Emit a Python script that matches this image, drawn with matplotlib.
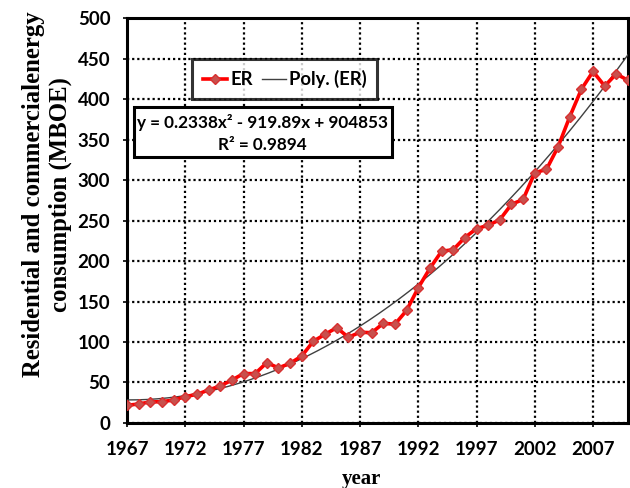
import numpy as np
import matplotlib.pyplot as plt
from matplotlib.lines import Line2D
from matplotlib.patches import Rectangle

# Residential and commercial energy consumption, MBOE
years = list(range(1967, 2011))
er = [21.8, 23.5, 26.0, 26.3, 28.4, 32.5, 35.4, 40.7, 45.7, 53.0,
      61.0, 61.0, 74.5, 68.0, 73.7, 82.7, 101.0, 109.5, 117.7, 105.8,
      112.0, 111.5, 123.0, 122.0, 139.0, 167.0, 191.0, 212.0, 214.0, 229.0,
      240.0, 244.0, 251.0, 270.0, 276.0, 309.0, 313.0, 341.0, 378.0, 412.0,
      434.0, 416.0, 431.0, 423.0]
eq_text = "y = 0.2338x\u00b2 - 919.89x + 904853"
r2_text = "R\u00b2 = 0.9894"
xticks = list(range(1967, 2011, 5))
yticks = list(range(0, 501, 50))

sans = ['Lato', 'DejaVu Sans']
serif = ['Liberation Serif', 'DejaVu Serif']

fig = plt.figure(figsize=(6.3, 4.88), dpi=100)
ax = fig.add_axes([0.2016, 0.1332, 0.7952, 0.8299])

# second order trend of the series
x = np.array(years, dtype=float)
coef = np.polyfit(x - 1967, er, 2)
xs = np.linspace(1967, 2010, 200)
ax.plot(xs, np.polyval(coef, xs - 1967), color='#404040', lw=1.0, zorder=3)

ax.plot(years, er, color='red', lw=2.6, marker='D', ms=5.5,
        mfc='#c8504d', mec='#d83030', mew=1.0, zorder=4)

ax.set_xlim(1967, 2010)
ax.set_ylim(0, 500)
ax.set_xticks(xticks)
ax.set_yticks(yticks)
ax.grid(True, color='black', ls=(0, (1, 1.3)), lw=1.6)
ax.set_axisbelow(True)
for s in ax.spines.values():
    s.set_linewidth(2.2)
ax.tick_params(length=3, width=1.2)
ax.tick_params(axis='x', pad=10)
ax.tick_params(axis='y', pad=9)
for lab in ax.get_xticklabels() + ax.get_yticklabels():
    lab.set_family(sans)
    lab.set_fontweight('bold')
    lab.set_fontsize(13.5)

ax.set_ylabel("Residential and commercialenergy\nconsumption (MBOE)",
              family=serif, fontweight='bold', fontsize=17.8, linespacing=1.2,
              va='center')
ax.yaxis.set_label_coords(-0.159, 0.565)
ax.text(0.469, -0.151, "year", transform=ax.transAxes, ha='center',
        va='baseline', family=serif, fontweight='bold', fontsize=15)

# legend
handles = [Line2D([], [], color='red', lw=2.6, marker='D', ms=5.5,
                  mfc='#c8504d', mec='#d83030'),
           Line2D([], [], color='#404040', lw=1.0)]
leg = ax.legend(handles, ['ER', 'Poly. (ER)'], loc='upper left',
                bbox_to_anchor=(0.13, 0.899), ncol=2, frameon=True,
                fancybox=False, borderaxespad=0, handlelength=1.3,
                handletextpad=0.15, columnspacing=0.5, borderpad=0.6,
                prop={'family': sans, 'weight': 'bold', 'size': 13.3})
leg.get_frame().set_edgecolor('black')
leg.get_frame().set_linewidth(2.2)
leg.set_zorder(6)

# equation box
ax.add_patch(Rectangle((0.014, 0.657), 0.515, 0.123, transform=ax.transAxes,
                       facecolor='white', edgecolor='black', lw=2.2, zorder=6))
ax.text(0.271, 0.741, eq_text, transform=ax.transAxes, ha='center', va='center',
        family=sans, fontweight='bold', fontsize=12.3, zorder=7)
ax.text(0.271, 0.686, r2_text, transform=ax.transAxes, ha='center', va='center',
        family=sans, fontweight='bold', fontsize=12.3, zorder=7)

fig.savefig('out.png', dpi=100)
